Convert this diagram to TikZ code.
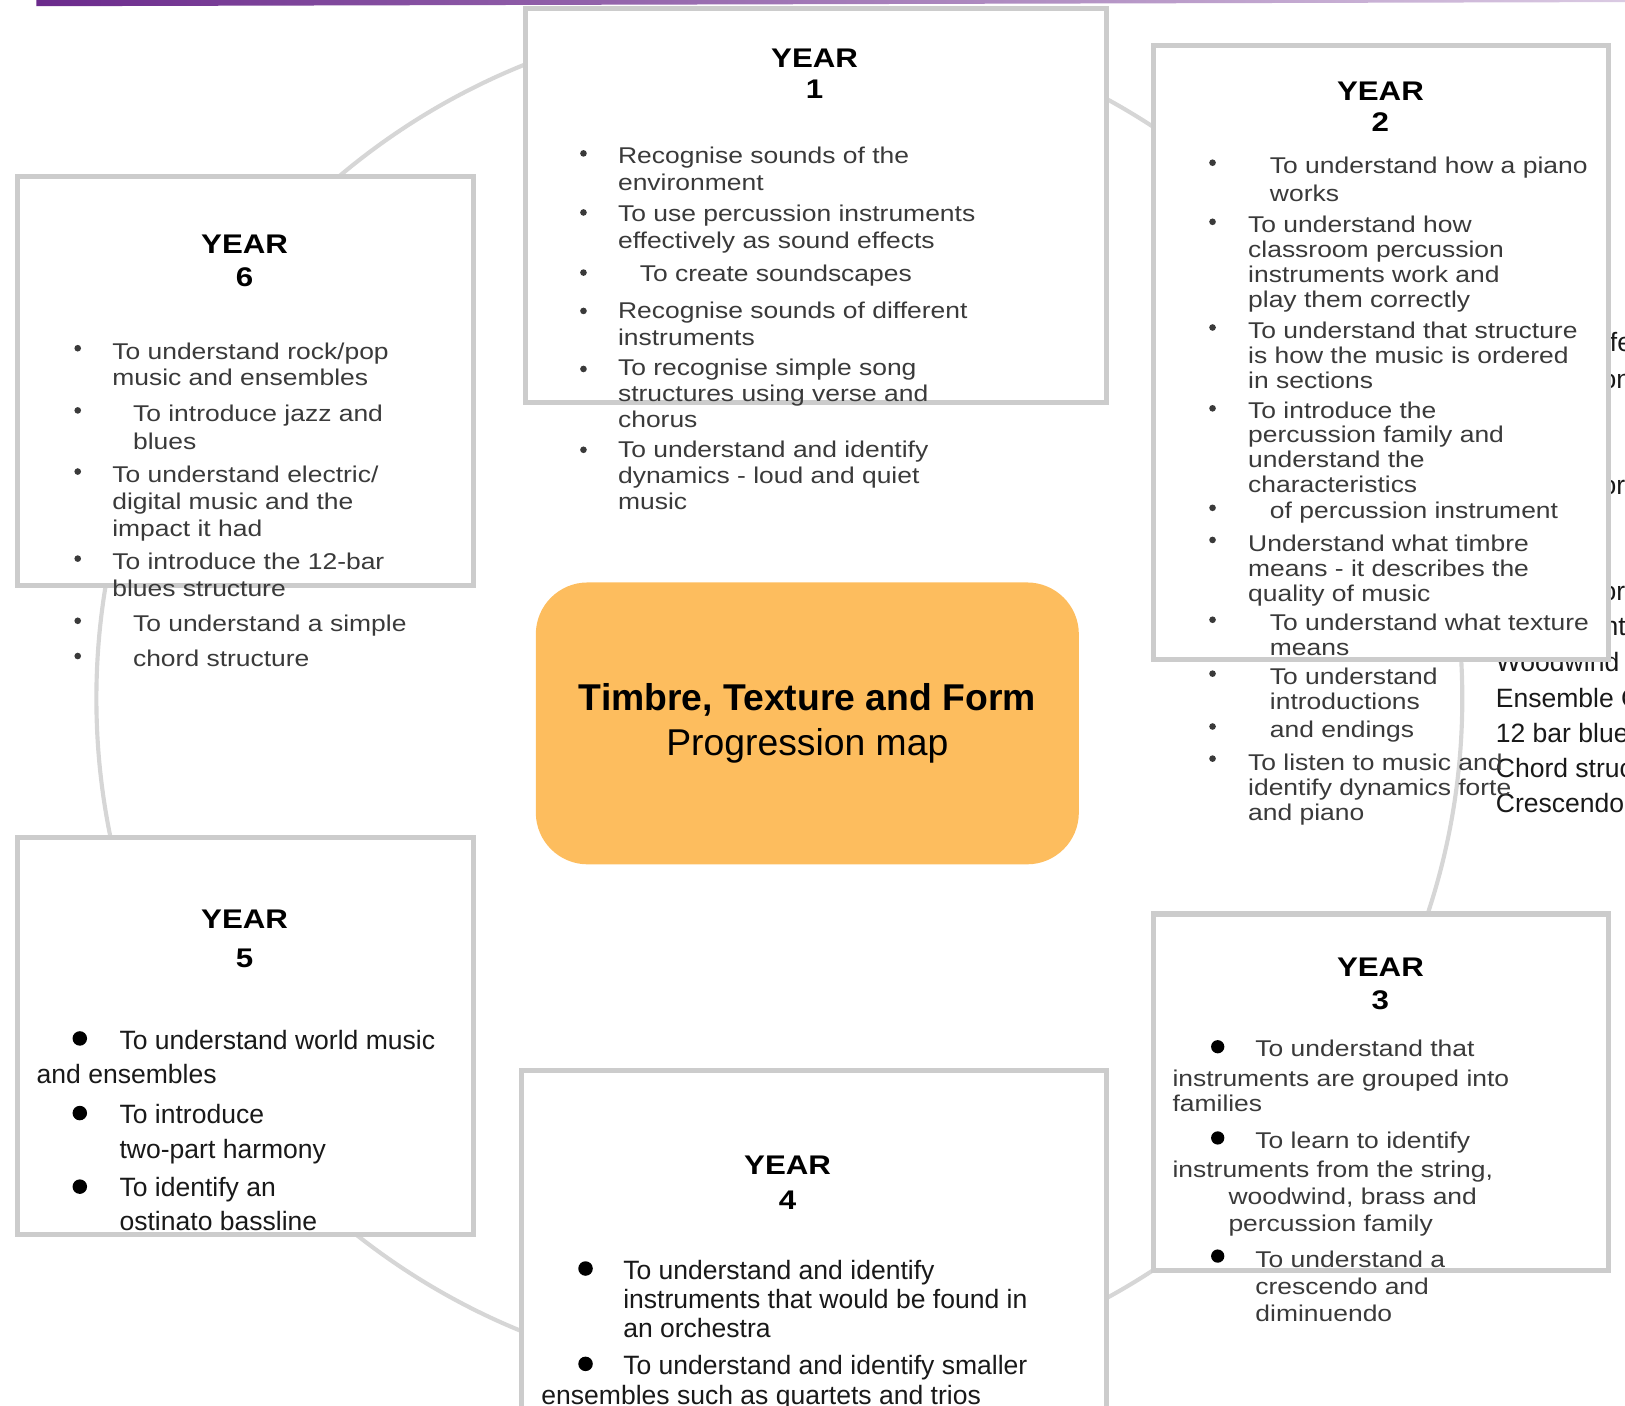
\documentclass[tikz,border=0pt]{standalone}
\usepackage{fontspec}
\newfontfamily\widefont[FakeStretch=1.16]{Liberation Sans}
\newfontfamily\plainfont{Liberation Sans}

\definecolor{boxgray}{HTML}{CCCCCC}
\definecolor{ringgray}{HTML}{D6D6D6}
\definecolor{hubfill}{HTML}{FDBD5E}
\definecolor{textgray}{HTML}{3A3A3A}
\definecolor{topline}{HTML}{6B2A8C}

% multi-line nodes sit on the baseline of their last line
\tikzset{
  yearbox/.style={draw=boxgray, line width=2.5pt, fill=white},
  yeartitle/.style={font=\widefont\bfseries\fontsize{13}{15}\selectfont, inner sep=0pt, anchor=base},
  smalltext/.style={font=\widefont\fontsize{11}{#1}\selectfont, text=textgray, align=left, inner sep=0pt, anchor=base west, yshift=-1.2pt},
  bigtext/.style={font=\plainfont\fontsize{12.8}{#1}\selectfont, text=black!90, align=left, inner sep=0pt, anchor=base west, yshift=-1.2pt},
  hub/.style={fill=hubfill, rounded corners=25pt, minimum width=262pt, minimum height=136pt, align=center, font=\plainfont\fontsize{18}{21.5}\selectfont}
}

\begin{document}
\begin{tikzpicture}[x=0.5pt,y=-0.5pt]

\clip (0,0) rectangle (1568,1356);

% purple rule at the top
\shade[left color=topline, right color=topline!25] (35,0) -- (1568,0) -- (1568,2) -- (35,6) -- cycle;

% the ring behind the boxes
\draw[ringgray, line width=2pt] (752,674) circle[radius=329.5pt];

% text column hidden behind year 2
\node[bigtext=17] (edgecol) at (1443,782) {Woodwind\\Ensemble C\\12 bar blues\\Chord structure\\Crescendo};
\node[bigtext=17] (edgef1) at (1553,337) {fe};
\node[bigtext=17] (edgef2) at (1545,372) {on};
\node[bigtext=17] (edgef3) at (1545,475) {or};
\node[bigtext=17] (edgef4) at (1545,577) {or};
\node[bigtext=17] (edgef5) at (1547,611) {nt};

% boxes
\draw[yearbox] (507,8) rectangle (1068,388); % year 1
\draw[yearbox] (1113,44) rectangle (1552,636); % year 2
\draw[yearbox] (1113,882) rectangle (1552,1226); % year 3
\draw[yearbox] (503,1033) rectangle (1068,1420); % year 4
\draw[yearbox] (17,808) rectangle (457,1191); % year 5
\draw[yearbox] (17,170) rectangle (457,565); % year 6

% centre
\node[hub] (hub) at (779,698) {\textbf{Timbre, Texture and Form}\\Progression map};

% year 1
\node[yeartitle] (y1t) at (786,65) {YEAR};
\node[yeartitle] (y1n) at (786,95) {1};
\node[smalltext=13] (y1a) at (596,181) {Recognise sounds of the\\environment};
\node[smalltext=13] (y1b) at (596,237) {To use percussion instruments\\effectively as sound effects};
\node[smalltext=13] (y1c) at (617,269) {To create soundscapes};
\node[smalltext=13] (y1d) at (596,331) {Recognise sounds of different\\instruments};
\node[smalltext=12.5] (y1e) at (596,410) {To recognise simple song\\structures using verse and\\chorus};
\node[smalltext=12.5] (y1f) at (596,489) {To understand and identify\\dynamics - loud and quiet\\music};
\foreach \y in {148,205,263,300,356,434}
  \fill[textgray] (563,\y) circle[radius=1.6pt];

% year 2
\node[yeartitle] (y2t) at (1332,97) {YEAR};
\node[yeartitle] (y2n) at (1332,127) {2};
\node[smalltext=13.5] (y2a) at (1225,192) {To understand how a piano\\works};
\node[smalltext=12] (y2b) at (1204,294) {To understand how\\classroom percussion\\instruments work and\\play them correctly};
\node[smalltext=12] (y2c) at (1204,372) {To understand that structure\\is how the music is ordered\\in sections};
\node[smalltext=12] (y2d) at (1204,473) {To introduce the\\percussion family and\\understand the\\characteristics};
\node[smalltext=12] (y2e) at (1225,498) {of percussion instrument};
\node[smalltext=12] (y2f) at (1204,578) {Understand what timbre\\means - it describes the\\quality of music};
\node[smalltext=12] (y2g) at (1225,630) {To understand what texture\\means};
\node[smalltext=12] (y2h) at (1225,682) {To understand\\introductions};
\node[smalltext=12] (y2i) at (1225,709) {and endings};
\node[smalltext=12] (y2j) at (1204,789) {To listen to music and\\identify dynamics forte\\and piano};
\foreach \y in {157,214,316,394,490,521,598,650,701,732}
  \fill[textgray] (1170,\y) circle[radius=1.6pt];

% year 3
\node[yeartitle] (y3t) at (1332,942) {YEAR};
\node[yeartitle] (y3n) at (1332,974) {3};
\node[smalltext=12] (y3a) at (1211,1017) {To understand that};
\node[smalltext=12] (y3b) at (1131,1070) {instruments are grouped into\\families};
\node[smalltext=12] (y3c) at (1211,1106) {To learn to identify};
\node[smalltext=12] (y3d) at (1131,1134) {instruments from the string,};
\node[smalltext=13] (y3e) at (1185,1186) {woodwind, brass and\\percussion family};
\node[smalltext=13] (y3f) at (1211,1273) {To understand a\\crescendo and\\diminuendo};
\foreach \y in {1010,1098,1212}
  \fill[black] (1175,\y) circle[radius=3.2pt];

% year 4
\node[yeartitle] (y4t) at (760,1133) {YEAR};
\node[yeartitle] (y4n) at (760,1167) {4};
\node[bigtext=14] (y4a) at (601,1288) {To understand and identify\\instruments that would be found in\\an orchestra};
\node[bigtext=14] (y4b) at (601,1324) {To understand and identify smaller};
\node[bigtext=14] (y4c) at (522,1353) {ensembles such as quartets and trios};
\foreach \y in {1224,1316}
  \fill[black] (565,\y) circle[radius=3.5pt];

% year 5
\node[yeartitle] (y5t) at (236,896) {YEAR};
\node[yeartitle] (y5n) at (236,934) {5};
\node[bigtext=16.5] (y5a) at (115,1010) {To understand world music};
\node[bigtext=16.5] (y5b) at (35,1043) {and ensembles};
\node[bigtext=16.5] (y5c) at (115,1115) {To introduce\\two-part harmony};
\node[bigtext=16.5] (y5d) at (115,1185) {To identify an\\ostinato bassline};
\foreach \y in {1002,1074,1145}
  \fill[black] (77,\y) circle[radius=3.5pt];

% year 6
\node[yeartitle] (y6t) at (236,245) {YEAR};
\node[yeartitle] (y6n) at (236,276) {6};
\node[smalltext=13] (y6a) at (108,370) {To understand rock/pop\\music and ensembles};
\node[smalltext=13.5] (y6b) at (128,431) {To introduce jazz and\\blues};
\node[smalltext=13] (y6c) at (108,515) {To understand electric/\\digital music and the\\impact it had};
\node[smalltext=13] (y6d) at (108,573) {To introduce the 12-bar\\blues structure};
\node[smalltext=13] (y6e) at (128,607) {To understand a simple};
\node[smalltext=13] (y6f) at (128,641) {chord structure};
\foreach \y in {336,396,455,539,599,633}
  \fill[textgray] (75,\y) circle[radius=1.6pt];

\end{tikzpicture}
\end{document}
